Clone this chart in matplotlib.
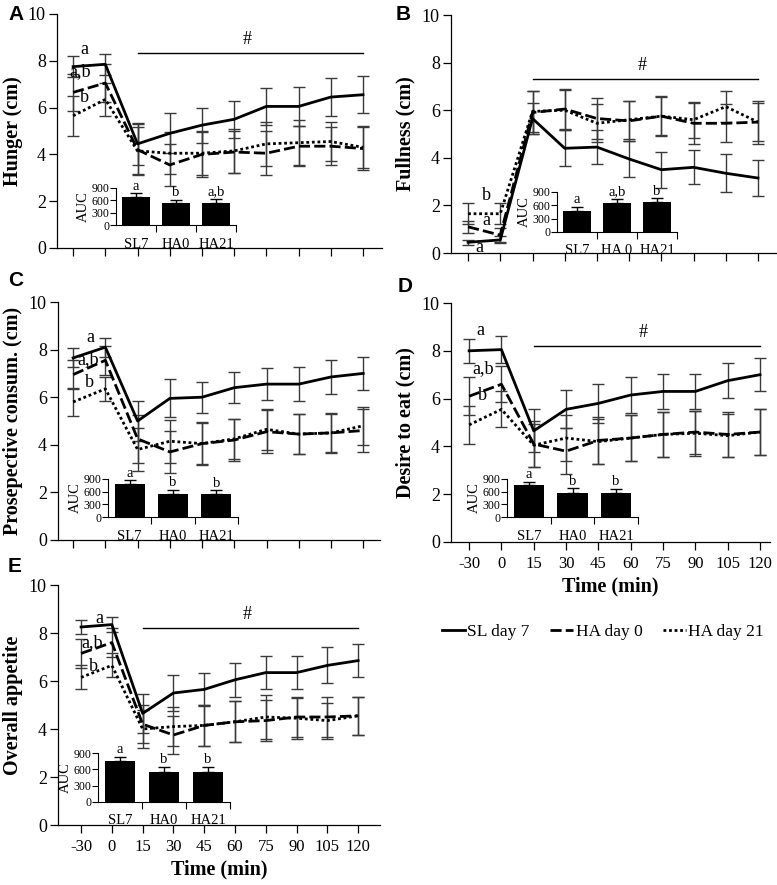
import matplotlib
matplotlib.use("Agg")
import matplotlib.pyplot as plt
from matplotlib.lines import Line2D

plt.rcParams['font.family'] = ['Liberation Serif', 'DejaVu Serif']

W, H = 777, 885

times = [-30, 0, 15, 30, 45, 60, 75, 90, 105, 120]
groups = ["SL7", "HA0", "HA21"]
legend_labels = ["SL day 7", "HA day 0", "HA day 21"]

# panel A - hunger
hunger_sl = [7.75, 7.85, 4.45, 4.9, 5.25, 5.5, 6.05, 6.05, 6.45, 6.55]
hunger_sl_err = [0.45, 0.45, 0.9, 0.85, 0.75, 0.8, 0.8, 0.85, 0.8, 0.8]
hunger_ha0 = [6.65, 7.05, 4.2, 3.55, 4.0, 4.1, 4.05, 4.35, 4.35, 4.25]
hunger_ha0_err = [0.8, 0.8, 1.1, 0.9, 0.95, 0.9, 0.95, 0.85, 0.8, 0.9]
hunger_ha21 = [5.65, 6.35, 4.15, 4.05, 4.05, 4.15, 4.45, 4.5, 4.55, 4.3]
hunger_ha21_err = [0.85, 0.7, 1.0, 0.9, 0.95, 0.95, 0.95, 0.95, 0.85, 0.9]
hunger_auc = [680, 530, 545]
hunger_auc_err = [90, 90, 95]
hunger_auc_letters = ["a", "b", "a,b"]

# panel B - fullness
full_sl = [0.45, 0.55, 5.65, 4.4, 4.45, 3.95, 3.5, 3.6, 3.35, 3.15]
full_sl_err = [0.1, 0.15, 0.65, 0.75, 0.7, 0.75, 0.75, 0.72, 0.8, 0.75]
full_ha0 = [1.1, 0.75, 5.9, 6.05, 5.65, 5.55, 5.75, 5.45, 5.45, 5.5]
full_ha0_err = [0.25, 0.3, 0.9, 0.85, 0.85, 0.85, 0.8, 0.85, 0.8, 0.8]
full_ha21 = [1.65, 1.65, 5.95, 6.0, 5.45, 5.6, 5.75, 5.6, 6.15, 5.5]
full_ha21_err = [0.45, 0.45, 0.85, 0.85, 0.8, 0.8, 0.85, 0.75, 0.65, 0.9]
full_auc = [480, 660, 680]
full_auc_err = [80, 80, 75]
full_auc_letters = ["a", "a,b", "b"]

# panel C - prospective consumption
pc_sl = [7.65, 8.1, 5.0, 5.95, 6.0, 6.4, 6.55, 6.55, 6.85, 7.0]
pc_sl_err = [0.4, 0.4, 0.85, 0.8, 0.65, 0.65, 0.68, 0.7, 0.7, 0.68]
pc_ha0 = [6.95, 7.55, 4.25, 3.7, 4.05, 4.2, 4.55, 4.45, 4.5, 4.6]
pc_ha0_err = [0.6, 0.6, 1.0, 0.9, 0.9, 0.9, 0.9, 0.85, 0.85, 0.9]
pc_ha21 = [5.8, 6.35, 3.8, 4.15, 4.05, 4.25, 4.65, 4.45, 4.5, 4.8]
pc_ha21_err = [0.6, 0.5, 0.9, 0.9, 0.85, 0.85, 0.85, 0.85, 0.8, 0.8]
pc_auc = [780, 555, 545]
pc_auc_err = [85, 90, 90]
pc_auc_letters = ["a", "b", "b"]

# panel D - desire to eat
de_sl = [8.0, 8.05, 4.65, 5.55, 5.8, 6.15, 6.3, 6.3, 6.75, 7.0]
de_sl_err = [0.5, 0.55, 0.9, 0.8, 0.8, 0.75, 0.72, 0.75, 0.72, 0.7]
de_ha0 = [6.1, 6.6, 4.1, 3.8, 4.25, 4.35, 4.5, 4.6, 4.5, 4.6]
de_ha0_err = [0.8, 0.75, 0.95, 0.95, 1.0, 0.95, 0.95, 0.9, 0.95, 0.95]
de_ha21 = [4.9, 5.55, 4.05, 4.35, 4.2, 4.35, 4.5, 4.55, 4.45, 4.6]
de_ha21_err = [0.8, 0.75, 0.9, 0.95, 0.95, 0.95, 0.95, 0.95, 0.9, 0.95]
de_auc = [755, 575, 575]
de_auc_err = [80, 100, 90]
de_auc_letters = ["a", "b", "b"]

# panel E - overall appetite
oa_sl = [8.25, 8.35, 4.65, 5.5, 5.65, 6.05, 6.35, 6.35, 6.65, 6.85]
oa_sl_err = [0.3, 0.3, 0.8, 0.75, 0.7, 0.7, 0.7, 0.7, 0.75, 0.7]
oa_ha0 = [7.15, 7.6, 4.2, 3.75, 4.15, 4.3, 4.35, 4.5, 4.5, 4.55]
oa_ha0_err = [0.6, 0.6, 0.8, 0.8, 0.85, 0.85, 0.85, 0.85, 0.85, 0.8]
oa_ha21 = [6.15, 6.65, 4.0, 4.1, 4.15, 4.3, 4.5, 4.45, 4.35, 4.55]
oa_ha21_err = [0.5, 0.5, 0.8, 0.8, 0.85, 0.85, 0.9, 0.85, 0.75, 0.8]
oa_auc = [750, 550, 550]
oa_auc_err = [75, 95, 90]
oa_auc_letters = ["a", "b", "b"]


def px_axes(fig, l, t, r, b):
    return fig.add_axes([l / W, 1 - b / H, (r - l) / W, (b - t) / H])


styles = [dict(ls='-', lw=2.0), dict(ls=(0, (4, 1.5)), lw=2.0), dict(ls=(0, (1, 1)), lw=2.0)]
xpos = list(range(len(times)))


def draw_panel(ax, series, errs, ylabel, xlim, show_xlabels, letters, hash_y, label_x):
    for vals, err in zip(series, errs):
        ax.errorbar(xpos, vals, yerr=err, fmt='none', ecolor='#3a3a3a',
                    elinewidth=1.0, capsize=4, capthick=1.0, zorder=2)
    for vals, st in zip(series, styles):
        ax.plot(xpos, vals, color='black', zorder=3, **st)
    ax.set_xlim(*xlim)
    ax.set_ylim(0, 10)
    ax.set_yticks([0, 2, 4, 6, 8, 10])
    ax.set_xticks(xpos)
    ax.spines['top'].set_visible(False)
    ax.spines['right'].set_visible(False)
    for s in ['left', 'bottom']:
        ax.spines[s].set_linewidth(0.9)
    ax.tick_params(direction='out', length=6, width=0.9)
    ax.tick_params(axis='y', labelsize=13, pad=2)
    ax.tick_params(axis='x', labelsize=12, pad=4)
    if show_xlabels:
        ax.set_xticklabels([str(t) for t in times])
        ax.set_xlabel("Time (min)", fontsize=14.5, fontweight='bold', labelpad=3)
    else:
        ax.set_xticklabels([])
    ax.set_ylabel(ylabel, fontsize=14.5, fontweight='bold')
    ax.yaxis.set_label_coords(label_x, 0.5)
    for (x, y, s) in letters:
        ax.text(x, y, s, fontsize=13, ha='center', va='center')
    if hash_y is not None:
        ax.plot([2, 9], [hash_y, hash_y], color='black', lw=1.0)
        ax.text(5.4, hash_y + 0.2, "#", fontsize=13, ha='center', va='bottom')


def draw_inset(ax, vals, errs, letters, ticklabels):
    pos = [0, 1, 2]
    ax.bar(pos, vals, width=0.7, color='black', zorder=2)
    ax.errorbar(pos, vals, yerr=[[0, 0, 0], errs], fmt='none', ecolor='black',
                elinewidth=1.0, capsize=4, capthick=1.0, clip_on=False, zorder=3)
    for p, v, e, s in zip(pos, vals, errs, letters):
        ax.text(p, v + e + 15, s, fontsize=10.5, ha='center', va='bottom')
    ax.set_xlim(-0.5, 2.5)
    ax.set_ylim(0, 900)
    ax.set_yticks([0, 300, 600, 900])
    ax.set_xticks(pos)
    ax.set_xticklabels(ticklabels)
    ax.set_xticks([0.5, 1.5, 2.5], minor=True)
    ax.tick_params(axis='x', which='major', length=0, pad=9, labelsize=10.5)
    ax.tick_params(axis='x', which='minor', length=5, width=0.8)
    ax.tick_params(axis='y', length=4, width=0.8, labelsize=8.5, pad=1)
    ax.spines['top'].set_visible(False)
    ax.spines['right'].set_visible(False)
    ax.set_ylabel("AUC", fontsize=10.5, labelpad=1)
    ax.patch.set_alpha(0)


fig = plt.figure(figsize=(W / 100, H / 100), dpi=100)

# A
axA = px_axes(fig, 57, 14, 382, 248)
draw_panel(axA, [hunger_sl, hunger_ha0, hunger_ha21],
           [hunger_sl_err, hunger_ha0_err, hunger_ha21_err],
           "Hunger (cm)", (-0.5, 9.59), False,
           [(0.35, 8.5, "a"), (0.23, 7.55, "a,b"), (0.35, 6.45, "b")], 8.35, -0.105)
insA = px_axes(fig, 116, 188, 236, 225)
draw_inset(insA, hunger_auc, hunger_auc_err, hunger_auc_letters, groups)

# B
axB = px_axes(fig, 451, 15, 777, 253)
draw_panel(axB, [full_sl, full_ha0, full_ha21],
           [full_sl_err, full_ha0_err, full_ha21_err],
           "Fullness (cm)", (-0.53, 9.59), False,
           [(0.57, 2.4, "b"), (0.57, 1.35, "a"), (0.36, 0.22, "a")], 7.3, -0.11)
insB = px_axes(fig, 557, 192, 677, 232)
draw_inset(insB, full_auc, full_auc_err, full_auc_letters, ["SL7", "HA 0", "HA21"])

# C
axC = px_axes(fig, 58, 302, 380, 540)
draw_panel(axC, [pc_sl, pc_ha0, pc_ha21],
           [pc_sl_err, pc_ha0_err, pc_ha21_err],
           "Prosepective consum. (cm)", (-0.47, 9.52), False,
           [(0.52, 8.5, "a"), (0.46, 7.6, "a,b"), (0.52, 6.6, "b")], None, -0.108)
insC = px_axes(fig, 108, 479, 238, 517)
draw_inset(insC, pc_auc, pc_auc_err, pc_auc_letters, groups)

# D
axD = px_axes(fig, 451, 303, 770, 542)
draw_panel(axD, [de_sl, de_ha0, de_ha21],
           [de_sl_err, de_ha0_err, de_ha21_err],
           "Desire to eat (cm)", (-0.56, 9.31), True,
           [(0.34, 8.85, "a"), (0.42, 7.25, "a,b"), (0.42, 6.15, "b")], 8.2, -0.11)
insD = px_axes(fig, 507, 479, 638, 517)
draw_inset(insD, de_auc, de_auc_err, de_auc_letters, groups)

# E
axE = px_axes(fig, 58, 585, 380, 825)
draw_panel(axE, [oa_sl, oa_ha0, oa_ha21],
           [oa_sl_err, oa_ha0_err, oa_ha21_err],
           "Overall appetite", (-0.75, 9.71), True,
           [(0.59, 8.6, "a"), (0.35, 7.6, "a,b"), (0.4, 6.6, "b")], 8.2, -0.108)
insE = px_axes(fig, 98, 753, 230, 802)
draw_inset(insE, oa_auc, oa_auc_err, oa_auc_letters, groups)

# panel letters
for letter, x, y in [("A", 8, 14), ("B", 396, 15), ("C", 8, 280), ("D", 398, 287), ("E", 8, 566)]:
    fig.text(x / W, 1 - y / H, letter, fontsize=15, fontweight='bold',
             family=['Liberation Sans', 'DejaVu Sans'], ha='left', va='center')

handles = [Line2D([0], [0], color='black', **st) for st in styles]
fig.legend(handles, legend_labels, loc='center', bbox_to_anchor=(603 / W, 1 - 632 / H),
           ncol=3, frameon=False, fontsize=12.5, handlelength=1.3, handletextpad=0.15,
           columnspacing=1.2)

fig.savefig("out.png", dpi=100)
